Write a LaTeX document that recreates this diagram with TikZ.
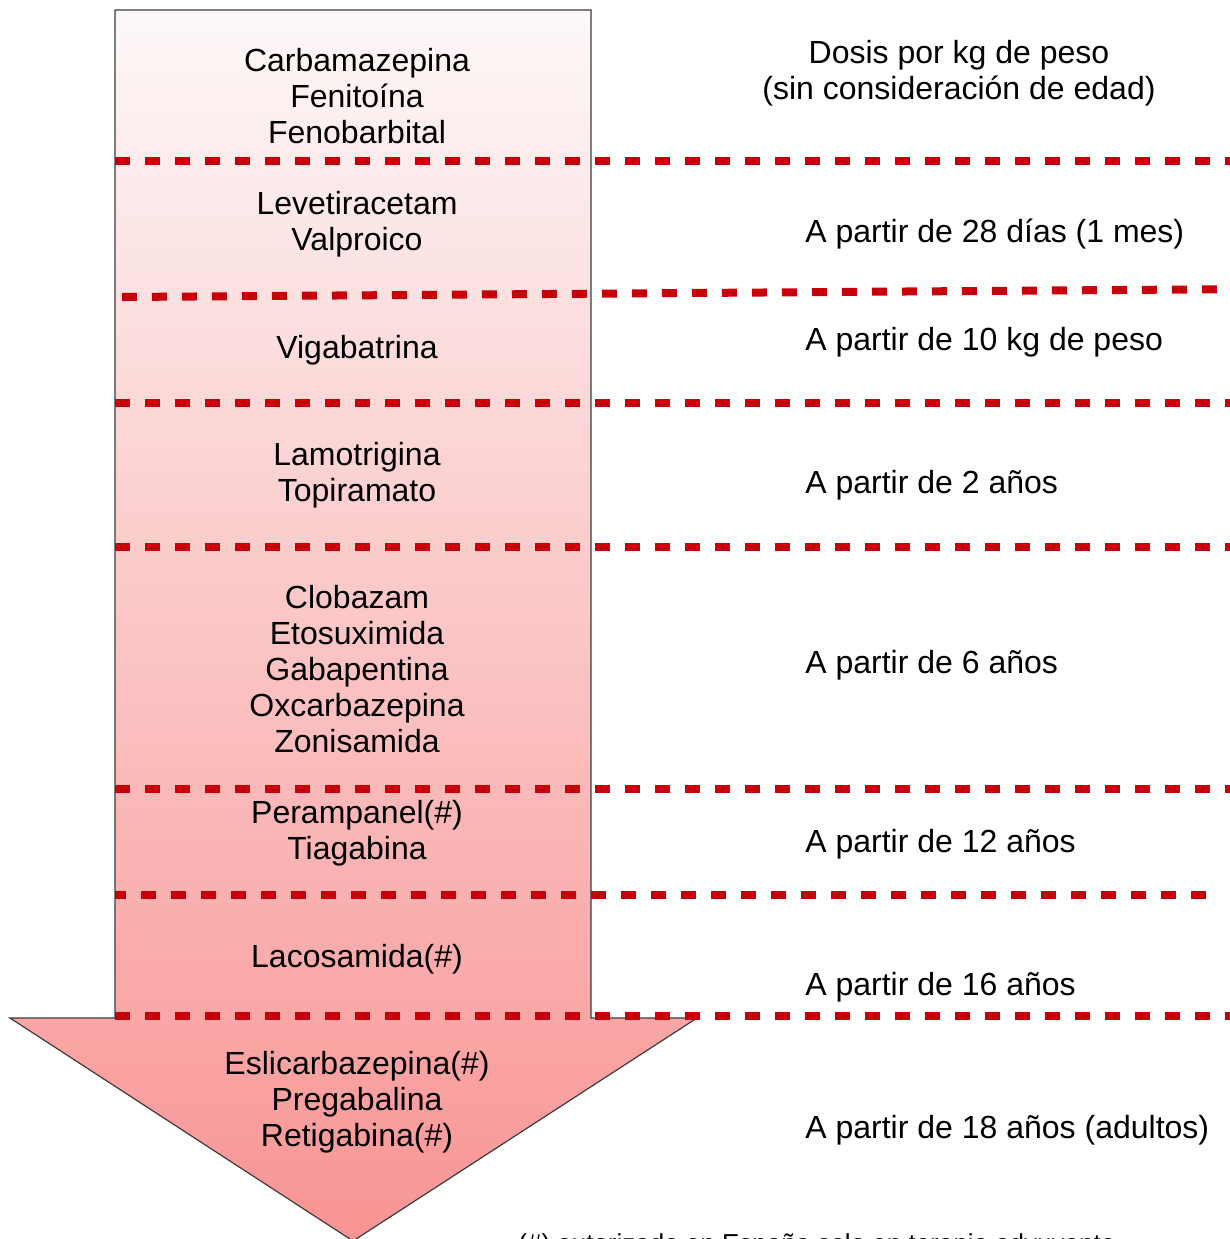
\documentclass[tikz,border=0pt]{standalone}
\usepackage{fontspec}
\setmainfont{Liberation Sans}
\definecolor{dashred}{RGB}{200,0,10}
\definecolor{toppink}{RGB}{253,248,248}
\definecolor{botpink}{RGB}{249,148,148}
\definecolor{edgegray}{RGB}{60,60,60}
\begin{document}
\begin{tikzpicture}[x=0.5pt,y=-0.5pt,
  txt/.style={font=\fontsize{16}{18}\selectfont, inner sep=0pt, align=center},
  rtxt/.style={font=\fontsize{16}{18}\selectfont, inner sep=0pt, anchor=west},
  sep/.style={draw=dashred, line width=4pt, dash pattern=on 7.5pt off 7.5pt},
  arrowbody/.style={top color=toppink, bottom color=botpink, draw=edgegray, line width=0.6pt}]
\useasboundingbox (0,0) rectangle (1230,1239);
\begin{scope}
\clip (0,0) rectangle (1230,1239);
% arrow
\path[arrowbody] (115,10) -- (591,10) -- (591,1018) -- (697,1018) -- (353,1241) -- (10,1018) -- (115,1018) -- cycle;
% separator coordinates
\coordinate (l1a) at (115,161);  \coordinate (l1b) at (1236,161);
\coordinate (l2a) at (122,297);  \coordinate (l2b) at (1260,289);
\coordinate (l3a) at (115,403);  \coordinate (l3b) at (1236,403);
\coordinate (l4a) at (115,547);  \coordinate (l4b) at (1236,547);
\coordinate (l5a) at (115,789);  \coordinate (l5b) at (1236,789);
\coordinate (l6a) at (115,895);  \coordinate (l6b) at (1219,895);
\coordinate (l7a) at (115,1016); \coordinate (l7b) at (1236,1016);
\draw[sep] (l1a) -- (l1b);
\draw[sep] (l2a) -- (l2b);
\draw[sep] (l3a) -- (l3b);
\draw[sep] (l4a) -- (l4b);
\draw[sep] (l5a) -- (l5b);
\draw[sep, dash phase=2pt] (l6a) -- (l6b);
\draw[sep] (l7a) -- (l7b);
% left texts
\node[txt] (g1) at (357,96) {Carbamazepina\\Fenitoína\\Fenobarbital};
\node[txt] (g2) at (357,224) {Levetiracetam\\Valproico};
\node[txt] (g3) at (357,350) {Vigabatrina};
\node[txt] (g4) at (357,475) {Lamotrigina\\Topiramato};
\node[txt] (g5) at (357,669) {Clobazam\\Etosuximida\\Gabapentina\\Oxcarbazepina\\Zonisamida};
\node[txt] (g6) at (357,833) {Perampanel(\#)\\Tiagabina};
\node[txt] (g7) at (357,959) {Lacosamida(\#)};
\node[txt] (g8) at (357,1102) {Eslicarbazepina(\#)\\Pregabalina\\Retigabina(\#)};
% right texts
\node[txt] (r0) at (959,73) {Dosis por kg de peso\\(sin consideración de edad)};
\node[rtxt] (r1) at (805,234) {A partir de 28 días (1 mes)};
\node[rtxt] (r2) at (805,342) {A partir de 10 kg de peso};
\node[rtxt] (r3) at (805,485) {A partir de 2 años};
\node[rtxt] (r4) at (805,665) {A partir de 6 años};
\node[rtxt] (r5) at (805,844) {A partir de 12 años};
\node[rtxt] (r6) at (805,987) {A partir de 16 años};
\node[rtxt] (r7) at (805,1130) {A partir de 18 años (adultos)};
% footnote (cut off at the bottom edge, as in the original)
\node[rtxt, font=\fontsize{13}{15}\selectfont, anchor=north west] (fn) at (518,1233) {(\#) autorizado en España solo en terapia adyuvante};
\end{scope}
\end{tikzpicture}
\end{document}
